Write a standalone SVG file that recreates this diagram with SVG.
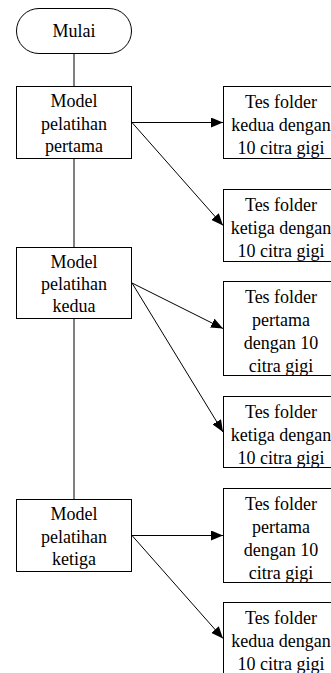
<svg xmlns="http://www.w3.org/2000/svg" width="331" height="673" viewBox="0 0 331 673">
<style>
.box{fill:#fff;stroke:#000;stroke-width:1}
.c{stroke:#000;stroke-width:1;fill:none}
.t{font-family:'Liberation Serif','DejaVu Serif',serif;font-size:18px;fill:#000;text-anchor:middle}
</style>
<defs>
<marker id="arr" markerWidth="12" markerHeight="10" refX="12" refY="5" orient="auto" markerUnits="userSpaceOnUse">
<path d="M0,0 L12,5 L0,10 Z" fill="#000"/>
</marker>
</defs>
<rect width="331" height="673" fill="#fff"/>
<g id="connectors">
<line class="c" x1="74" y1="54" x2="74" y2="86"/>
<line class="c" x1="74" y1="159" x2="74" y2="247"/>
<line class="c" x1="74" y1="319" x2="74" y2="499"/>
<line class="c" x1="132" y1="122.5" x2="223" y2="122.5" marker-end="url(#arr)"/>
<line class="c" x1="132" y1="122.5" x2="223" y2="225.5" marker-end="url(#arr)"/>
<line class="c" x1="132" y1="283" x2="223" y2="328.5" marker-end="url(#arr)"/>
<line class="c" x1="132" y1="283" x2="223" y2="432" marker-end="url(#arr)"/>
<line class="c" x1="132" y1="535.5" x2="223" y2="535.5" marker-end="url(#arr)"/>
<line class="c" x1="132" y1="535.5" x2="223" y2="638.5" marker-end="url(#arr)"/>
</g>
<g id="mulai">
<rect class="box" x="16.5" y="8.5" width="115" height="45" rx="22.5"/>
<text class="t" x="74" y="37">Mulai</text>
</g>
<g id="model1">
<rect class="box" x="16.5" y="86.5" width="115" height="72"/>
<text class="t" x="74" y="107">Model</text>
<text class="t" x="74" y="129.5">pelatihan</text>
<text class="t" x="74" y="152">pertama</text>
</g>
<g id="model2">
<rect class="box" x="16.5" y="247.5" width="115" height="71"/>
<text class="t" x="74" y="268">Model</text>
<text class="t" x="74" y="290">pelatihan</text>
<text class="t" x="74" y="312">kedua</text>
</g>
<g id="model3">
<rect class="box" x="16.5" y="499.5" width="115" height="72"/>
<text class="t" x="74" y="520">Model</text>
<text class="t" x="74" y="542.5">pelatihan</text>
<text class="t" x="74" y="565">ketiga</text>
</g>
<g id="tes1">
<rect class="box" x="223.5" y="86.5" width="115" height="72"/>
<text class="t" x="281" y="108">Tes folder</text>
<text class="t" x="281" y="131">kedua dengan</text>
<text class="t" x="281" y="154">10 citra gigi</text>
</g>
<g id="tes2">
<rect class="box" x="223.5" y="189.5" width="115" height="72"/>
<text class="t" x="281" y="211">Tes folder</text>
<text class="t" x="281" y="234">ketiga dengan</text>
<text class="t" x="281" y="257">10 citra gigi</text>
</g>
<g id="tes3">
<rect class="box" x="223.5" y="281.5" width="115" height="94"/>
<text class="t" x="281" y="303">Tes folder</text>
<text class="t" x="281" y="326">pertama</text>
<text class="t" x="281" y="349">dengan 10</text>
<text class="t" x="281" y="372">citra gigi</text>
</g>
<g id="tes4">
<rect class="box" x="223.5" y="396.5" width="115" height="71"/>
<text class="t" x="281" y="418">Tes folder</text>
<text class="t" x="281" y="441">ketiga dengan</text>
<text class="t" x="281" y="464">10 citra gigi</text>
</g>
<g id="tes5">
<rect class="box" x="223.5" y="488.5" width="115" height="94"/>
<text class="t" x="281" y="510">Tes folder</text>
<text class="t" x="281" y="533">pertama</text>
<text class="t" x="281" y="556">dengan 10</text>
<text class="t" x="281" y="579">citra gigi</text>
</g>
<g id="tes6">
<rect class="box" x="223.5" y="602.5" width="115" height="72"/>
<text class="t" x="281" y="624">Tes folder</text>
<text class="t" x="281" y="647">kedua dengan</text>
<text class="t" x="281" y="670">10 citra gigi</text>
</g>
</svg>
